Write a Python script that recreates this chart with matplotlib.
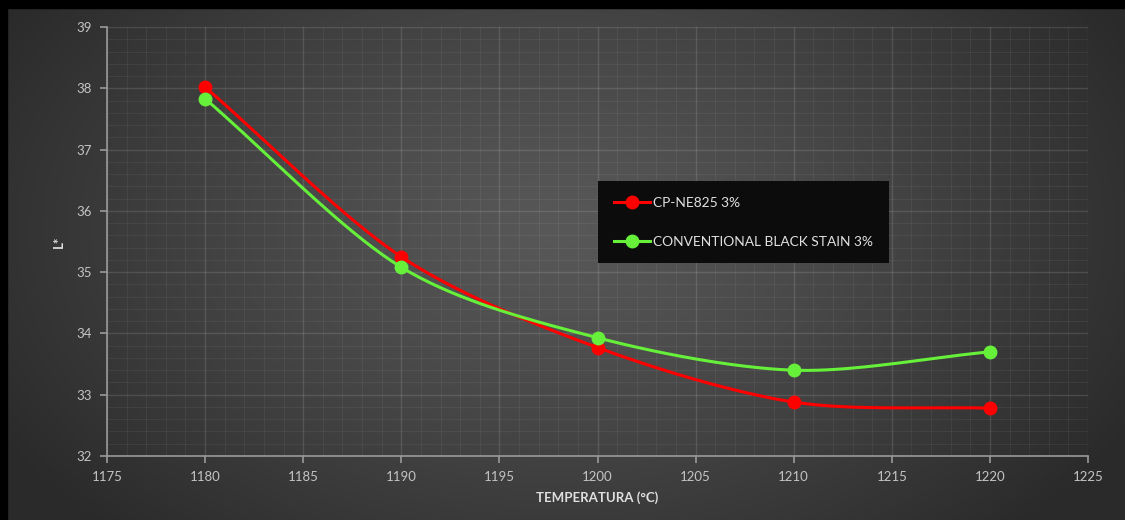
import numpy as np
import matplotlib
matplotlib.use("Agg")
import matplotlib.pyplot as plt
from matplotlib.patches import Rectangle
from matplotlib.ticker import MultipleLocator

plt.rcParams['font.family'] = ['Lato', 'DejaVu Sans']

temps = [1180, 1190, 1200, 1210, 1220]
cp_ne825 = [38.02, 35.25, 33.77, 32.88, 32.78]
conventional = [37.83, 35.08, 33.93, 33.40, 33.70]
series_names = ["CP-NE825 3%", "CONVENTIONAL BLACK STAIN 3%"]
series_colors = ["#ff0000", "#66f03a"]
x_label = "TEMPERATURA (°C)"
y_label = "L*"


def smooth(xs, ys, n=40):
    # Catmull-Rom style curve through the points (Excel smoothed line look)
    xs = np.asarray(xs, float)
    ys = np.asarray(ys, float)
    P = np.column_stack([xs, ys])
    P = np.vstack([2 * P[0] - P[1], P, 2 * P[-1] - P[-2]])
    out = []
    t = np.linspace(0, 1, n)
    for i in range(1, len(P) - 2):
        p0, p1, p2, p3 = P[i - 1], P[i], P[i + 1], P[i + 2]
        m1 = (p2 - p0) / 2 * 0.9
        m2 = (p3 - p1) / 2 * 0.9
        h00 = 2 * t**3 - 3 * t**2 + 1
        h10 = t**3 - 2 * t**2 + t
        h01 = -2 * t**3 + 3 * t**2
        h11 = t**3 - t**2
        seg = (np.outer(h00, p1) + np.outer(h10, m1) + np.outer(h01, p2) + np.outer(h11, m2))
        out.append(seg if i == 1 else seg[1:])
    out = np.vstack(out)
    return out[:, 0], out[:, 1]


fig = plt.figure(figsize=(11.25, 5.2), dpi=100)

# radial gradient background
bg = fig.add_axes([0, 0, 1, 1], zorder=-10)
W, H = 1125, 520
yy, xx = np.mgrid[0:H, 0:W]
cx, cy = 560, 230
d = np.sqrt(((xx - cx) / 650.0) ** 2 + ((yy - cy) / 420.0) ** 2)
d = np.clip(d, 0, 1)
val = 0.345 - 0.18 * d ** 1.2
img = np.dstack([val, val, val])
bg.imshow(img, extent=[0, 1, 0, 1], aspect='auto', origin='upper')
bg.set_axis_off()
bg.set_xlim(0, 1)
bg.set_ylim(0, 1)
bg.add_patch(Rectangle((0, 1 - 8 / H), 1, 8 / H, color='black', transform=bg.transAxes))
bg.add_patch(Rectangle((0, 0), 7 / W, 1, color='black', transform=bg.transAxes))

ax = fig.add_axes([107 / W, 1 - 456 / H, (1088 - 107) / W, (456 - 27) / H])
ax.patch.set_alpha(0)

ax.set_xlim(1175, 1225)
ax.set_ylim(32, 39)
ax.xaxis.set_major_locator(MultipleLocator(5))
ax.xaxis.set_minor_locator(MultipleLocator(1))
ax.yaxis.set_major_locator(MultipleLocator(1))
ax.yaxis.set_minor_locator(MultipleLocator(0.2))
ax.grid(which='major', color='white', alpha=0.12, linewidth=1.0)
ax.grid(which='minor', color='white', alpha=0.055, linewidth=0.8)
ax.set_axisbelow(True)

for s in ['top', 'right']:
    ax.spines[s].set_visible(False)
for s in ['left', 'bottom']:
    ax.spines[s].set_color('#9a9a9a')
    ax.spines[s].set_linewidth(1.2)
ax.tick_params(which='major', direction='out', length=5, width=1.2, color='#9a9a9a',
               labelcolor='#c4c4c4', labelsize=9.5, pad=6)
ax.tick_params(which='minor', length=0)

for ys, name, col in zip([cp_ne825, conventional], series_names, series_colors):
    sx, sy = smooth(temps, ys)
    ax.plot(sx, sy, color=col, linewidth=2.2, zorder=3)
    ax.plot(temps, ys, linestyle='none', marker='o', markersize=9, color=col, zorder=4)
    ax.plot([], [], color=col, linewidth=2.2, marker='o', markersize=9, label=name)

leg = ax.legend(loc='upper left', bbox_to_anchor=((598 - 107) / (1088 - 107), 1 - (181 - 27) / (456 - 27)),
                frameon=True, fancybox=False, facecolor='#0c0c0c', edgecolor='#0c0c0c',
                framealpha=1, labelcolor='#e0e0e0', fontsize=9.9, handlelength=2.6,
                handletextpad=0.25, labelspacing=1.95, borderpad=1.15, borderaxespad=0)
leg.get_frame().set_linewidth(0)

ax.set_xlabel(x_label, color='#e0e0e0', fontsize=9.5, fontweight='bold', labelpad=6)
ax.set_ylabel(y_label, color='#e0e0e0', fontsize=9.5, fontweight='bold', labelpad=8)

fig.savefig('out.png', dpi=100)
